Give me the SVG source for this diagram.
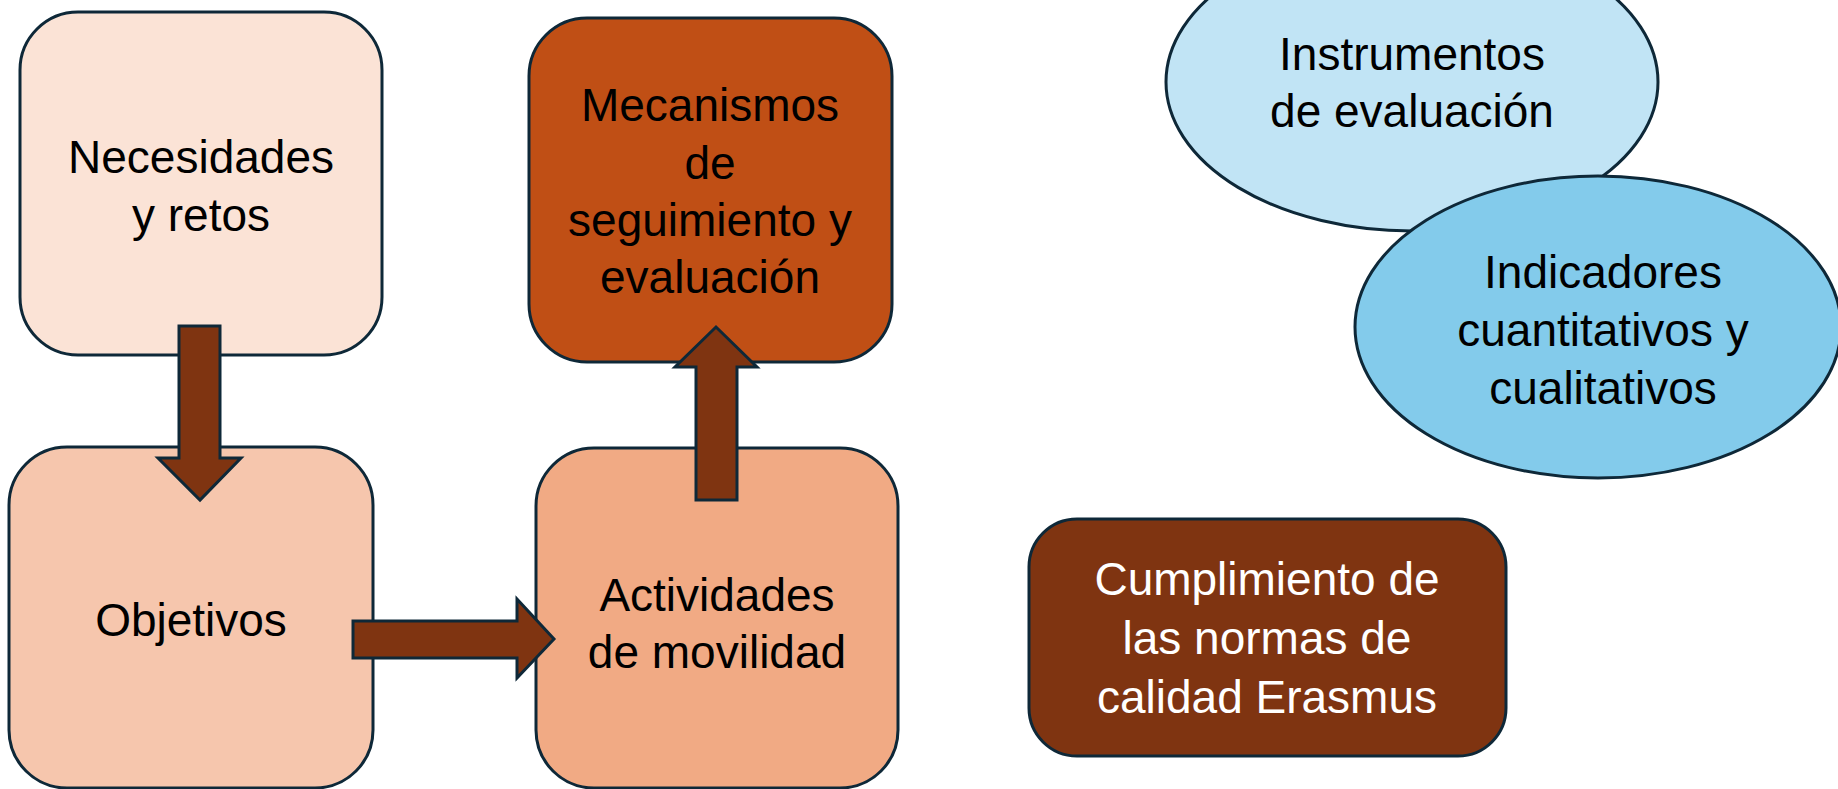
<svg xmlns="http://www.w3.org/2000/svg" width="1838" height="789" viewBox="0 0 1838 789">
<style>
.box{stroke:#0E2838;stroke-width:3}
.arr{fill:#7F3411;stroke:#0E2838;stroke-width:3;stroke-linejoin:miter}
text{font-family:"Liberation Sans",Arial,sans-serif;font-size:46px;text-anchor:middle;fill:#000}
.w{fill:#fff}
</style>
<rect width="1838" height="789" fill="#fff"/>
<g id="n1"><rect class="box" x="20" y="12" width="362" height="343" rx="58" fill="#FBE3D6"/>
<text x="201" y="173">Necesidades</text><text x="201" y="231">y retos</text></g>
<g id="n2"><rect class="box" x="9" y="447" width="364" height="341" rx="58" fill="#F6C6AD"/>
<text x="191" y="636">Objetivos</text></g>
<g id="n3"><rect class="box" x="529" y="18" width="363" height="344" rx="58" fill="#C04F15"/>
<text x="710" y="121">Mecanismos</text><text x="710" y="179">de</text><text x="710" y="236">seguimiento y</text><text x="710" y="293">evaluación</text></g>
<g id="n4"><rect class="box" x="536" y="448" width="362" height="340" rx="58" fill="#F1AA84"/>
<text x="717" y="611">Actividades</text><text x="717" y="668">de movilidad</text></g>
<g id="n5"><rect class="box" x="1029" y="519" width="477" height="237" rx="48" fill="#7F3411"/>
<text class="w" x="1267" y="595">Cumplimiento de</text><text class="w" x="1267" y="654">las normas de</text><text class="w" x="1267" y="713">calidad Erasmus</text></g>
<g id="n6"><ellipse class="box" cx="1412" cy="82" rx="246" ry="149" fill="#C1E4F5"/>
<text x="1412" y="70">Instrumentos</text><text x="1412" y="127">de evaluación</text></g>
<g id="n7"><ellipse class="box" cx="1598" cy="327" rx="243" ry="151" fill="#83CBEB"/>
<text x="1603" y="288">Indicadores</text><text x="1603" y="346">cuantitativos y</text><text x="1603" y="404">cualitativos</text></g>
<g id="connectors">
<polygon class="arr" points="179,326 220,326 220,458 241,458 200,500 158,458 179,458"/>
<polygon class="arr" points="696,500 737,500 737,367 757,367 716,327 675,367 696,367"/>
<polygon class="arr" points="353,621 517,621 517,599 554,639 517,678 517,658 353,658"/>
</g>
</svg>
